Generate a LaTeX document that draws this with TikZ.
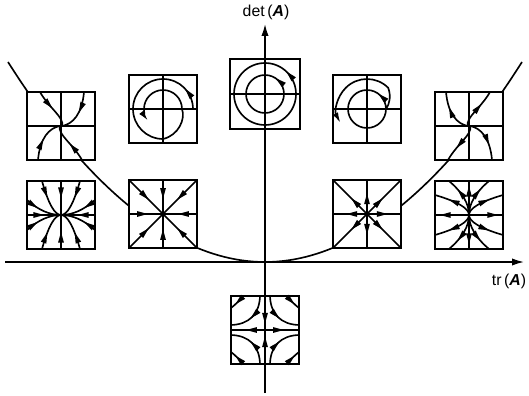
\documentclass[tikz,border=0pt]{standalone}
\usepackage{fontspec}
\setmainfont{Liberation Sans}
\usetikzlibrary{arrows.meta,decorations.markings}
\tikzset{
  tri/.tip={Latex[length=3.2mm,width=1.7mm]},
  axistip/.tip={Latex[length=3.6mm,width=2.2mm]},
  panel/.style={draw,line width=2pt,fill=white,minimum size=2.04cm,inner sep=0pt,outer sep=0pt},
  traj/.style={line width=1.4pt},
  axisline/.style={line width=1.4pt},
  curveline/.style={line width=1.4pt},
  fwd/.style={postaction={decorate,decoration={markings,mark=at position #1 with
      {\fill (1.5pt,0) -- (-7.6pt,2.5pt) -- (-7.6pt,-2.5pt) -- cycle;}}}},
  bwd/.style={postaction={decorate,decoration={markings,mark=at position #1 with
      {\fill (-1.5pt,0) -- (7.6pt,2.5pt) -- (7.6pt,-2.5pt) -- cycle;}}}},
  lbl/.style={font=\fontsize{13.5}{16}\selectfont,inner sep=0pt},
}
\begin{document}
\begin{tikzpicture}[x=0.03cm,y=0.03cm]
\useasboundingbox (0,0) rectangle (529,-396);

% axes and the parabola det = tr^2/4
\coordinate (xl) at (5,-262);
\coordinate (xr) at (524,-262);
\coordinate (yb) at (265,-393);
\coordinate (yt) at (265,-24);
\coordinate (pl) at (8,-62);
\coordinate (pv) at (265,-262);
\coordinate (pr) at (522,-62);
\draw[curveline] (pl) parabola bend (pv) (pr);
\draw[axisline,arrows={-axistip}] (xl) -- (xr);
\draw[axisline,arrows={-axistip}] (yb) -- (yt);
\node[lbl] (detl) at (266,-12) {det\,(\textbf{\textit{A}})};
\node[lbl] (trl) at (509,-281) {tr\,(\textbf{\textit{A}})};

% phase portrait panels
\node[panel] (b1) at (61,-126) {};
\node[panel] (b2) at (163,-109) {};
\node[panel,minimum size=2.1cm] (b3) at (265,-94) {};
\node[panel] (b4) at (367,-109) {};
\node[panel] (b5) at (469,-126) {};
\node[panel] (b6) at (61,-215) {};
\node[panel] (b7) at (163,-214) {};
\node[panel] (b8) at (367,-214) {};
\node[panel] (b9) at (469,-215) {};
\node[panel] (b10) at (265,-330) {};

% stable spiral
\begin{scope}[shift={(b1.center)}]
  \draw[traj] (-34,0) -- (34,0) (0,-34) -- (0,34);
  \draw[traj,fwd=0.45] (-21,34) .. controls (-12,18) and (4,8) .. (1,0);
  \draw[traj,fwd=0.45] (23,34) .. controls (21,12) and (12,2) .. (1,0);
  \draw[traj,fwd=0.45] (-23,-34) .. controls (-21,-12) and (-12,-2) .. (-1,0);
  \draw[traj,fwd=0.45] (21,-34) .. controls (12,-18) and (-4,-8) .. (-1,0);
\end{scope}

% unstable spiral
\begin{scope}[shift={(b5.center)}]
  \draw[traj] (-34,0) -- (34,0) (0,-34) -- (0,34);
  \draw[traj,fwd=0.6] (-1,0) .. controls (-4,8) and (12,18) .. (21,34);
  \draw[traj,fwd=0.6] (-1,0) .. controls (-12,2) and (-21,12) .. (-23,34);
  \draw[traj,fwd=0.6] (1,0) .. controls (12,-2) and (21,-12) .. (23,-34);
  \draw[traj,fwd=0.6] (1,0) .. controls (4,-8) and (-12,-18) .. (-21,-34);
\end{scope}

% spiral in, turning counterclockwise
\begin{scope}[shift={(b2.center)}]
  \draw[traj] (-34,0) -- (34,0) (0,-34) -- (0,34);
  \draw[traj,fwd=0.08,arrows={-tri}] (30,0) arc[start angle=0,end angle=270,radius=30]
    .. controls (15.7,-26.3) and (22.7,-9.9) .. (19,0)
    arc[start angle=0,end angle=218,radius=19];
\end{scope}

% centre: closed orbits
\begin{scope}[shift={(b3.center)}]
  \draw[traj] (-35,0) -- (35,0) (0,-35) -- (0,35);
  \draw[traj,fwd=0.12] (31,0) arc[start angle=0,end angle=360,radius=31];
  \draw[traj,fwd=0.14] (19,0) arc[start angle=0,end angle=360,radius=19];
\end{scope}

% spiral out, turning counterclockwise
\begin{scope}[shift={(b4.center)}]
  \draw[traj] (-34,0) -- (34,0) (0,-34) -- (0,34);
  \draw[traj,fwd=0.07,arrows={-tri}] (19,0) arc[start angle=0,end angle=360,radius=19]
    .. controls (22.7,5) and (24.2,13.1) .. (21.2,21.2)
    arc[start angle=45,end angle=208,radius=30];
\end{scope}

% stable node
\begin{scope}[shift={(b6.center)}]
  \foreach \a in {0,90,180,270}
    \draw[traj,bwd=0.55] (0,0) -- (\a:34);
  \foreach \sx in {1,-1} \foreach \sy in {1,-1} {
    \draw[traj,bwd=0.62] (0,0) .. controls ({\sx*19/3},0) and ({\sx*38/3},{\sy*34/3}) .. ({\sx*19},{\sy*34});
    \draw[traj,bwd=0.7] (0,0) .. controls ({\sx*34/3},0) and ({\sx*68/3},{\sy*15/3}) .. ({\sx*34},{\sy*15});
  }
\end{scope}

% stable star
\begin{scope}[shift={(b7.center)}]
  \foreach \a in {0,90,180,270}
    \draw[traj,bwd=0.5] (0,0) -- (\a:34);
  \foreach \a in {45,135,225,315}
    \draw[traj,bwd=0.46] (0,0) -- (\a:48.1);
\end{scope}

% unstable star
\begin{scope}[shift={(b8.center)}]
  \foreach \a in {0,90,180,270}
    \draw[traj,fwd=0.55] (0,0) -- (\a:34);
  \foreach \a in {45,135,225,315}
    \draw[traj,fwd=0.42] (0,0) -- (\a:48.1);
\end{scope}

% unstable node
\begin{scope}[shift={(b9.center)}]
  \foreach \a in {0,90,180,270}
    \draw[traj,fwd=0.8] (0,0) -- (\a:34);
  \foreach \sx in {1,-1} \foreach \sy in {1,-1} {
    \draw[traj,fwd=0.66] (0,0) .. controls (0,{\sy*34/3}) and ({\sx*20/3},{\sy*68/3}) .. ({\sx*20},{\sy*34});
    \draw[traj,fwd=0.6] (0,0) .. controls (0,{\sy*20/3}) and ({\sx*34/3},{\sy*40/3}) .. ({\sx*34},{\sy*20});
  }
\end{scope}

% saddle
\begin{scope}[shift={(b10.center)}]
  \draw[traj,bwd=0.24] (0,0) -- (0,34);
  \draw[traj,bwd=0.24] (0,0) -- (0,-34);
  \draw[traj,fwd=0.5] (0,0) -- (34,0);
  \draw[traj,fwd=0.5] (0,0) -- (-34,0);
  \foreach \sx in {1,-1} \foreach \sy in {1,-1} {
    \begin{scope}[xscale=\sx,yscale=\sy]
      \draw[traj,fwd=0.5] (-5,34) .. controls (-5.5,16) and (-16,5.5) .. (-34,5);
      \draw[traj,fwd=0.55] (-22,34) .. controls (-25,30) and (-30,25) .. (-34,22);
    \end{scope}
  }
\end{scope}
\end{tikzpicture}
\end{document}
